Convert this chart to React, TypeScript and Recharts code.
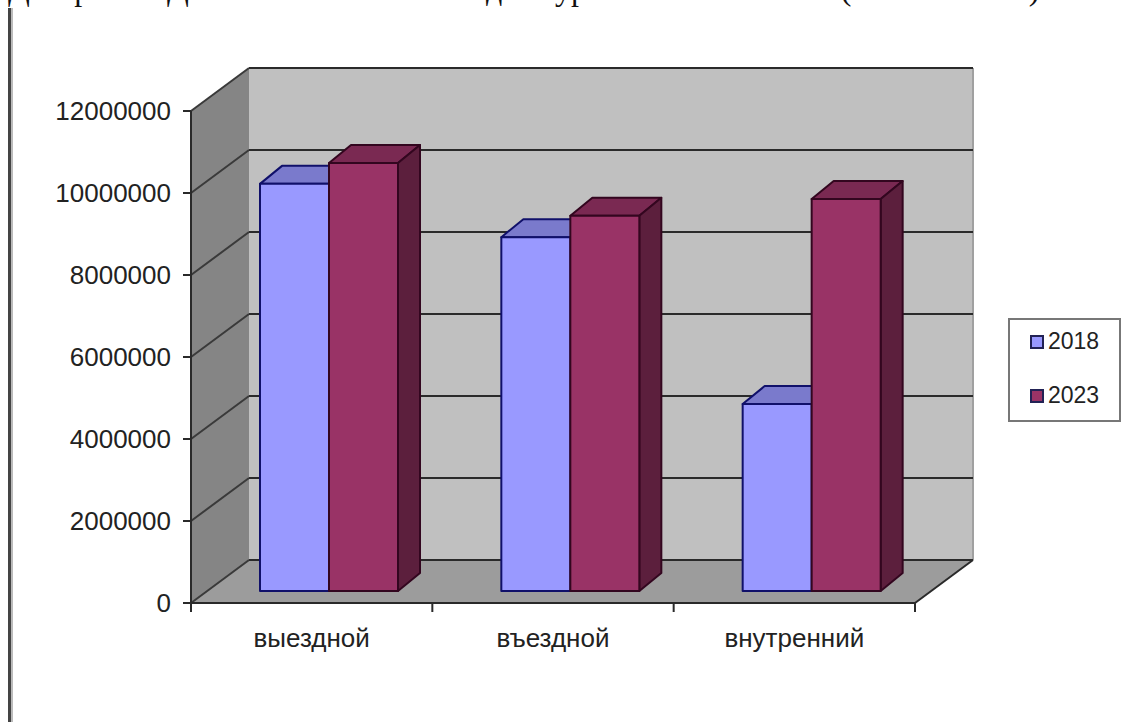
import { BarChart, Bar, XAxis, YAxis, Legend, ReferenceArea, ReferenceLine } from "recharts";

const categories = ["выездной", "въездной", "внутренний"];
const values2018 = [9930000, 8630000, 4560000];
const values2023 = [10440000, 9150000, 9560000];
const yTicks = [0, 2000000, 4000000, 6000000, 8000000, 10000000, 12000000];
const caption = "Диаграмма Динамика основных видов туризма в Казахстане (2018-2023 гг.)";

const chartData = categories.map((name, i) => ({
    name,
    y2018: values2018[i],
    y2023: values2023[i],
}));

// offset of the back wall from the front plane
const WALL_DX = 58;
const WALL_DY = 43;
// bars stand a little inside the floor
const BAR_DX = 17;
const BAR_DY = 12;
const BAR_DEPTH_X = 22;
const BAR_DEPTH_Y = 18;
const AXIS_COLOR = "#2a2a2a";
const FONT = "'Liberation Sans', Arial, sans-serif";

function Walls({ x, y, width, height }: any) {
    const bottom = y + height;
    const right = x + width;
    const edges = categories.map((_, i) => x + ((i + 1) * width) / categories.length);
    return (
        <g>
            <rect x={x + WALL_DX} y={y - WALL_DY} width={width} height={height} fill="#c0c0c0" />
            <polygon
                points={`${x},${y} ${x + WALL_DX},${y - WALL_DY} ${x + WALL_DX},${bottom - WALL_DY} ${x},${bottom}`}
                fill="#858585"
            />
            <polygon
                points={`${x},${bottom} ${x + WALL_DX},${bottom - WALL_DY} ${right + WALL_DX},${bottom - WALL_DY} ${right},${bottom}`}
                fill="#9c9c9c"
            />
            <line x1={right} y1={bottom} x2={right + WALL_DX} y2={bottom - WALL_DY} stroke={AXIS_COLOR} strokeWidth={2} />
            <line x1={right + WALL_DX} y1={y - WALL_DY} x2={right + WALL_DX} y2={bottom - WALL_DY} stroke="#a0a0a0" strokeWidth={2} />
            <line x1={x} y1={bottom} x2={x} y2={bottom + 9} stroke={AXIS_COLOR} strokeWidth={2} />
            {edges.map((ex) => (
                <line key={ex} x1={ex} y1={bottom} x2={ex} y2={bottom + 9} stroke={AXIS_COLOR} strokeWidth={2} />
            ))}
        </g>
    );
}

function GridLine({ x1, x2, y1 }: any) {
    const left = Math.min(x1, x2);
    const right = Math.max(x1, x2);
    return (
        <g>
            <line x1={left} y1={y1} x2={left + WALL_DX} y2={y1 - WALL_DY} stroke="#3a3a3a" strokeWidth={2} />
            <line x1={left + WALL_DX} y1={y1 - WALL_DY} x2={right + WALL_DX} y2={y1 - WALL_DY} stroke="#2a2a2a" strokeWidth={2} />
        </g>
    );
}

function makeBox(topFill: string, sideFill: string, edge: string) {
    return function Box({ x, y, width, height, fill }: any) {
        const left = x + BAR_DX;
        const top = y - BAR_DY;
        const right = left + width;
        const bottom = top + height;
        return (
            <g stroke={edge} strokeWidth={2} strokeLinejoin="round">
                <polygon
                    points={`${left},${top} ${left + BAR_DEPTH_X},${top - BAR_DEPTH_Y} ${right + BAR_DEPTH_X},${top - BAR_DEPTH_Y} ${right},${top}`}
                    fill={topFill}
                />
                <polygon
                    points={`${right},${top} ${right + BAR_DEPTH_X},${top - BAR_DEPTH_Y} ${right + BAR_DEPTH_X},${bottom - BAR_DEPTH_Y} ${right},${bottom}`}
                    fill={sideFill}
                />
                <rect x={left} y={top} width={width} height={height} fill={fill} />
            </g>
        );
    };
}

function XTick({ x, y, payload }: any) {
    return (
        <text x={x} y={y} textAnchor="middle" dominantBaseline="middle" fontSize={26} fontFamily={FONT} fill="#222">
            {payload.value}
        </text>
    );
}

function YTick({ x, y, payload }: any) {
    return (
        <text x={x} y={y + 2} textAnchor="end" dominantBaseline="middle" fontSize={26} fontFamily={FONT} fill="#222">
            {payload.value}
        </text>
    );
}

function LegendBox({ payload }: any) {
    return (
        <div
            style={{
                boxSizing: "border-box",
                width: 113,
                height: 104,
                background: "#fff",
                border: "2px solid #777",
                paddingTop: 8,
                paddingLeft: 20,
                fontFamily: FONT,
                fontSize: 23,
                color: "#222",
            }}
        >
            {(payload || []).map((item: any) => (
                <div key={item.value} style={{ display: "flex", alignItems: "center", height: 27, marginBottom: 27 }}>
                    <span
                        style={{
                            display: "inline-block",
                            boxSizing: "border-box",
                            width: 14,
                            height: 14,
                            marginRight: 4,
                            background: item.color,
                            border: "2px solid #222255",
                        }}
                    />
                    {item.value}
                </div>
            ))}
        </div>
    );
}

export default function App() {
    return (
        <div style={{ position: "absolute", left: 0, top: 0, width: 1127, height: 722, overflow: "hidden", background: "#fff" }}>
            {/* line of document text cut off by the top of the scan */}
            <div
                style={{
                    position: "absolute",
                    left: 8,
                    top: -29,
                    width: 1014,
                    whiteSpace: "nowrap",
                    fontFamily: "'Liberation Serif', serif",
                    fontSize: 32,
                    lineHeight: "37px",
                    color: "#111",
                    textAlign: "justify",
                    textAlignLast: "justify",
                }}
            >
                {caption}
            </div>
            <div
                style={{
                    position: "absolute",
                    left: 8,
                    top: 8,
                    width: 3,
                    height: 714,
                    background: "#444",
                    borderRight: "2px solid #bbb",
                }}
            />
            <div style={{ position: "absolute", left: 0, top: 0 }}>
                <BarChart
                    width={1127}
                    height={722}
                    data={chartData}
                    margin={{ top: 111, right: 212, bottom: 89, left: 71 }}
                    barCategoryGap={52}
                    barGap={0}
                >
                    <XAxis
                        dataKey="name"
                        tick={<XTick />}
                        tickLine={false}
                        stroke={AXIS_COLOR}
                        strokeWidth={2}
                        tickMargin={31}
                    />
                    <YAxis
                        width={120}
                        domain={[0, 12000000]}
                        ticks={yTicks}
                        interval={0}
                        tickSize={8}
                        tickMargin={12}
                        stroke={AXIS_COLOR}
                        strokeWidth={2}
                        tick={<YTick />}
                    />
                    <ReferenceArea y1={0} y2={12000000} shape={<Walls />} stroke="none" />
                    {yTicks.map((t) => (
                        <ReferenceLine key={t} y={t} shape={<GridLine />} zIndex={200} />
                    ))}
                    <Legend
                        layout="vertical"
                        align="center"
                        verticalAlign="middle"
                        content={<LegendBox />}
                        wrapperStyle={{ left: 1008, top: 318, width: 113, height: 104 }}
                    />
                    <Bar
                        dataKey="y2018"
                        name="2018"
                        fill="#9999ff"
                        isAnimationActive={false}
                        shape={makeBox("#7a7acc", "#5c5c99", "#10106a")}
                    />
                    <Bar
                        dataKey="y2023"
                        name="2023"
                        fill="#993366"
                        isAnimationActive={false}
                        shape={makeBox("#7a2952", "#5c1f3d", "#33061f")}
                    />
                </BarChart>
            </div>
        </div>
    );
}
